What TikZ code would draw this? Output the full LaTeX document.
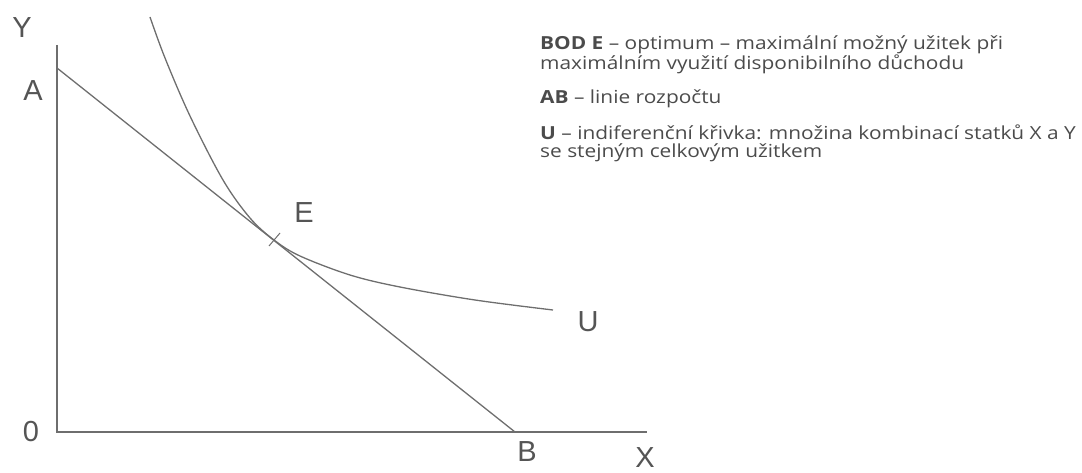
\documentclass[tikz,border=0pt]{standalone}
\usepackage{fontspec}
\setmainfont{Liberation Sans}
\newfontfamily\notefont[FakeStretch=1.16]{Open Sans}
\definecolor{axisgray}{RGB}{110,110,110}
\definecolor{labelgray}{RGB}{85,85,85}
\definecolor{notegray}{RGB}{75,75,75}
\tikzset{
  axisline/.style={draw=axisgray, line width=1.3pt},
  curveline/.style={draw=axisgray, line width=1.3pt},
  lbl/.style={text=labelgray, font=\fontsize{29}{29}\selectfont, inner sep=0pt},
  note/.style={text=notegray, font=\notefont\fontsize{18}{18}\selectfont, anchor=west, inner sep=0pt, align=left},
}
\begin{document}
\begin{tikzpicture}[x=1pt, y=-1pt]
\useasboundingbox (0,0) rectangle (1082,473);
\coordinate (O) at (57,432);
\coordinate (Ytop) at (57,45);
\coordinate (Xend) at (647,432);
\coordinate (A) at (57,68);
\coordinate (B) at (515,432);
\coordinate (E) at (274,240);
\coordinate (Et1) at (269,246);
\coordinate (Et2) at (280,233);
\coordinate (Uend) at (553,310);
% axes
\draw[axisline] (Ytop) -- (O) -- (Xend);
% budget line
\draw[axisline] (A) -- (B);
% indifference curve
\draw[curveline] plot[smooth, tension=0.55] coordinates {(150,17) (165,58) (190,116) (223,180) (250,218) (E) (300,256) (350,275) (400,287) (475,300) (Uend)};
% tick at E
\draw[axisline, line width=1pt] (Et1) -- (Et2);
% labels
\node[lbl] (lY) at (22,28) {Y};
\node[lbl] (lA) at (33,91) {A};
\node[lbl] (l0) at (31,432) {0};
\node[lbl] (lB) at (527,452) {B};
\node[lbl] (lX) at (645,458) {X};
\node[lbl] (lE) at (304,213) {E};
\node[lbl] (lU) at (588,322) {U};
% notes
\node[note] (n1) at (540,55) {\textbf{BOD E} – optimum – maximální možný užitek při\\maximálním využití disponibilního důchodu};
\node[note] (n2) at (540,99) {\textbf{AB} – linie rozpočtu};
\node[note] (n3) at (540,143) {\textbf{U} – indiferenční křivka: množina kombinací statků X a Y\\se stejným celkovým užitkem};
\end{tikzpicture}
\end{document}
